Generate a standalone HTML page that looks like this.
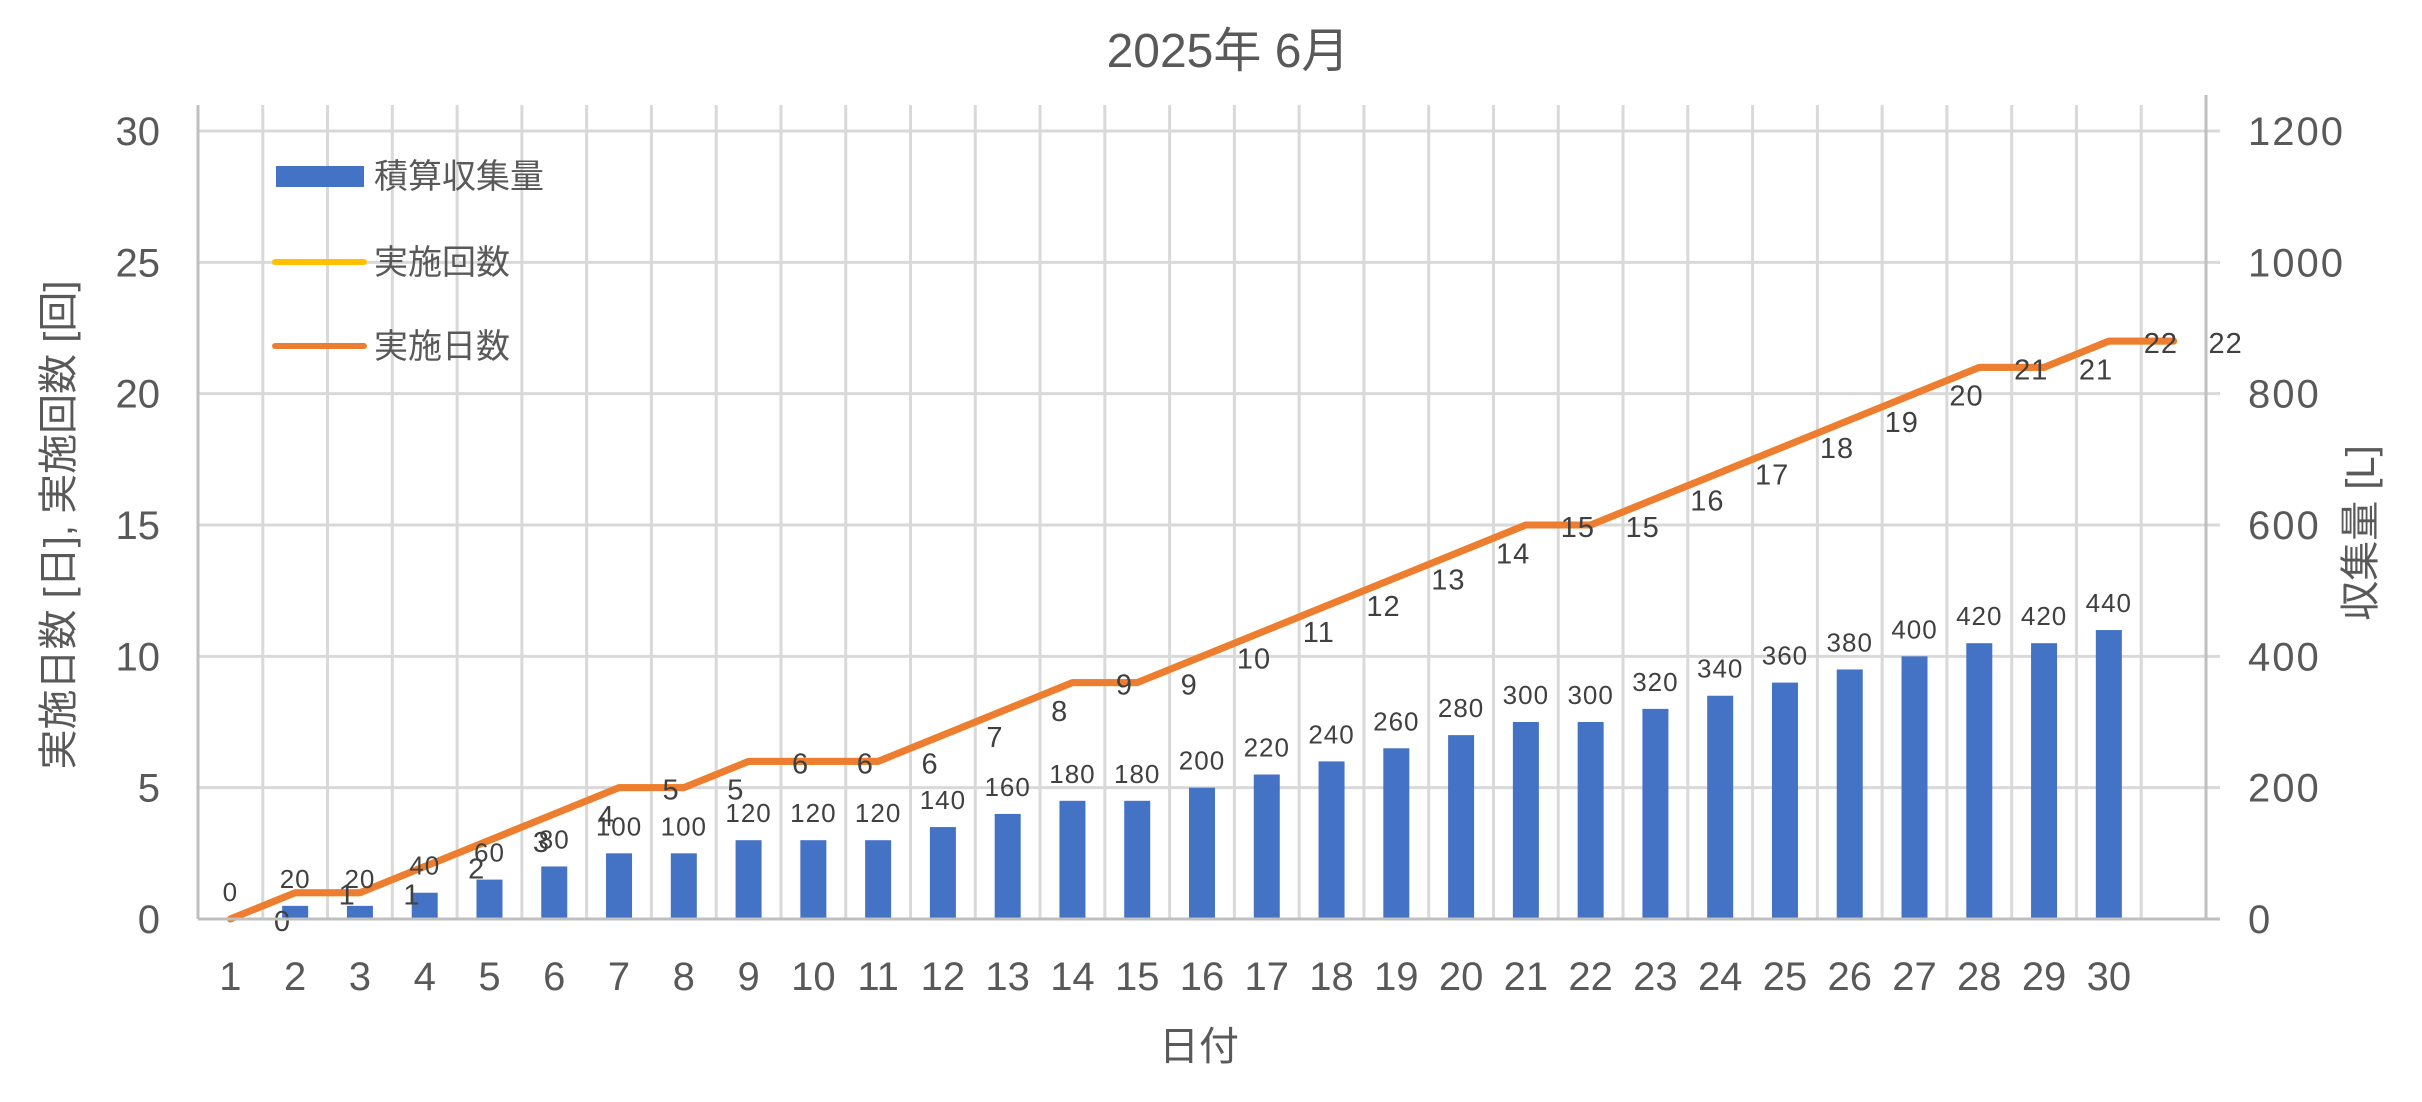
<!DOCTYPE html>
<html><head><meta charset="utf-8">
<style>
html,body{margin:0;padding:0;background:#fff;}
svg{display:block;font-family:"Liberation Sans","Noto Sans CJK JP",sans-serif;}
</style></head>
<body>
<svg id="chart" width="2422" height="1102" viewBox="0 0 2422 1102" xmlns="http://www.w3.org/2000/svg">
<rect x="0" y="0" width="2422" height="1102" fill="#fff"/>
<text x="1228" y="67" font-size="48" fill="#595959" text-anchor="middle">2025年 6月</text>
<g id="grid"></g>
<g id="bars"></g>
<g id="lines"></g>
<g id="labels"></g>
<g id="axes"></g>
<text transform="translate(72,525) rotate(-90)" font-size="40" fill="#595959" text-anchor="middle">実施日数 [日], 実施回数 [回]</text>
<text transform="translate(2374,533) rotate(-90)" font-size="40" fill="#595959" text-anchor="middle">収集量 [L]</text>
<text x="1199" y="1060" font-size="40" fill="#595959" text-anchor="middle">日付</text>
<g>
<g>
<rect x="276" y="166" width="88" height="21" fill="#4472c4"/>
<text x="374" y="188" font-size="34" fill="#595959">積算収集量</text></g>
<g>
<line x1="275" y1="262" x2="364" y2="262" stroke="#ffc000" stroke-width="6" stroke-linecap="round"/>
<text x="374" y="274" font-size="34" fill="#595959">実施回数</text></g>
<g>
<line x1="275" y1="346" x2="364" y2="346" stroke="#ed7d31" stroke-width="6" stroke-linecap="round"/>
<text x="374" y="358" font-size="34" fill="#595959">実施日数</text></g>
</g>
</svg>
<script>
const categories = [1,2,3,4,5,6,7,8,9,10,11,12,13,14,15,16,17,18,19,20,21,22,23,24,25,26,27,28,29,30];
const volumeValues = [0,20,20,40,60,80,100,100,120,120,120,140,160,180,180,200,220,240,260,280,300,300,320,340,360,380,400,420,420,440];
const dayValues = [0,1,1,2,3,4,5,5,6,6,6,7,8,9,9,10,11,12,13,14,15,15,16,17,18,19,20,21,21,22,22];
const countValues = [0,1,1,2,3,4,5,5,6,6,6,7,8,9,9,10,11,12,13,14,15,15,16,17,18,19,20,21,21,22,22];
const leftTicks = [0,5,10,15,20,25,30];
const rightTicks = [0,200,400,600,800,1000,1200];

const NS = "http://www.w3.org/2000/svg";
const L = 198, R = 2206, T = 131, B = 919, NCAT = 31;
const cw = (R - L) / NCAT;
const xC = i => L + (i + 0.5) * cw;
const yL = v => B - v / 30 * (B - T);
const yR = v => B - v / 1200 * (B - T);
function mk(tag, attrs, parent, txt) {
  const e = document.createElementNS(NS, tag);
  for (const k in attrs) e.setAttribute(k, attrs[k]);
  if (txt !== undefined) e.textContent = txt;
  parent.appendChild(e);
  return e;
}
const grid = document.getElementById('grid');
const bars = document.getElementById('bars');
const lines = document.getElementById('lines');
const labels = document.getElementById('labels');
const axes = document.getElementById('axes');

leftTicks.forEach(t => {
  const g = mk('line', {x1: L, x2: R + 14, y1: yL(t), y2: yL(t), stroke: '#d9d9d9', 'stroke-width': 3}, grid);
  
  
  const tl = mk('text', {x: 160, y: yL(t) + 14, 'font-size': 40, fill: '#595959', 'text-anchor': 'end'}, axes, String(t));
  
  
});
for (let k = 1; k < NCAT; k++) {
  const g = mk('line', {x1: L + k * cw, x2: L + k * cw, y1: 105, y2: B, stroke: '#d9d9d9', 'stroke-width': 3}, grid);
  
  
}
rightTicks.forEach(t => {
  const tl = mk('text', {x: 2248, y: yR(t) + 14, 'font-size': 40, fill: '#595959', 'letter-spacing': 2}, axes, String(t));
  
  
});
const al = mk('line', {x1: L, x2: L, y1: 105, y2: B, stroke: '#bfbfbf', 'stroke-width': 3}, axes);


const ar = mk('line', {x1: R, x2: R, y1: 95, y2: B, stroke: '#bfbfbf', 'stroke-width': 3}, axes);


const ax = mk('line', {x1: L, x2: R + 14, y1: B, y2: B, stroke: '#bfbfbf', 'stroke-width': 3}, axes);



categories.forEach((c, i) => {
  const tl = mk('text', {x: xC(i), y: 990, 'font-size': 40, fill: '#595959', 'text-anchor': 'middle'}, axes, String(c));
  
  
  const v = volumeValues[i];
  const b = mk('rect', {x: xC(i) - 13, y: yR(v), width: 26, height: B - yR(v), fill: '#4472c4'}, bars);
  
  
  const bl = mk('text', {x: xC(i), y: yR(v) - 18, 'font-size': 26, fill: '#404040', 'text-anchor': 'middle', 'letter-spacing': 1}, labels, String(v));
  
  
});

function poly(vals, color, name) {
  const pts = vals.map((v, i) => xC(i) + ',' + yL(v)).join(' ');
  const p = mk('polyline', {points: pts, fill: 'none', stroke: color, 'stroke-width': 7, 'stroke-linejoin': 'round', 'stroke-linecap': 'round'}, lines);
  
  
}
poly(countValues, '#ffc000', 'line-count');
poly(dayValues, '#ed7d31', 'line-days');
dayValues.forEach((v, i) => {
  const t = mk('text', {x: xC(i) + 52, y: yL(v) + 12, 'font-size': 29, fill: '#404040', 'text-anchor': 'middle', 'letter-spacing': 1}, labels, String(v));
  
  
});
</script>
</body></html>
